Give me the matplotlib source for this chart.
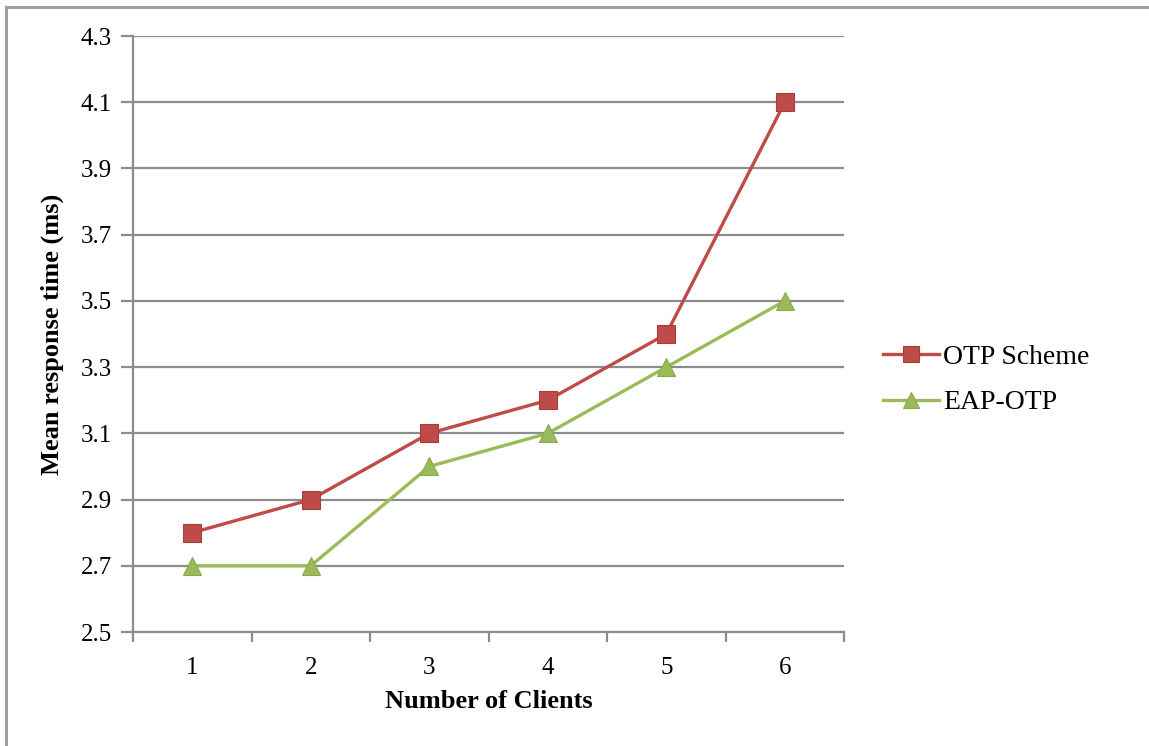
import matplotlib.pyplot as plt
from matplotlib.lines import Line2D
import numpy as np

plt.rcParams['font.family'] = ['Liberation Serif', 'DejaVu Serif']

clients = [1, 2, 3, 4, 5, 6]
otp_scheme = [2.8, 2.9, 3.1, 3.2, 3.4, 4.1]
eap_otp = [2.7, 2.7, 3.0, 3.1, 3.3, 3.5]
yticks = [2.5, 2.7, 2.9, 3.1, 3.3, 3.5, 3.7, 3.9, 4.1, 4.3]

red = '#BE4B48'
green = '#9BBB59'
grey = '#8C8C8C'

fig = plt.figure(figsize=(11.49, 7.46), dpi=100)
ax = fig.add_axes([0.1158, 0.1528, 0.6188, 0.7989])

x = np.arange(len(clients))
ax.plot(x, otp_scheme, color=red, lw=2.4, marker='s', ms=13,
        mfc=red, mec='#A83E3B', mew=0.8, label='OTP Scheme', zorder=3)
ax.plot(x, eap_otp, color=green, lw=2.4, marker='^', ms=13,
        mfc=green, mec='#8AA84E', mew=0.8, label='EAP-OTP', zorder=3)

ax.set_xlim(-0.5, len(clients) - 0.5)
ax.set_ylim(2.5, 4.3)
ax.set_yticks(yticks)
ax.set_yticklabels(['%.1f' % v for v in yticks])
ax.yaxis.grid(True, color=grey, lw=1.6)
ax.set_axisbelow(True)

# category labels in the middle, tick marks on the boundaries
ax.set_xticks(x)
ax.set_xticklabels([str(c) for c in clients])
ax.set_xticks(np.arange(-0.5, len(clients), 1.0), minor=True)
ax.tick_params(axis='x', which='major', length=0, pad=18, labelsize=18)
ax.tick_params(axis='x', which='minor', length=7, width=1.6, color=grey, direction='out')
ax.tick_params(axis='y', length=9, width=1.6, color=grey, direction='out', pad=6, labelsize=18)

for side in ['top', 'right']:
    ax.spines[side].set_visible(False)
for side in ['left', 'bottom']:
    ax.spines[side].set_color(grey)
    ax.spines[side].set_linewidth(1.6)

ax.set_xlabel('Number of Clients', fontsize=19, fontweight='bold', labelpad=8)
ax.set_ylabel('Mean response time (ms)', fontsize=19, fontweight='bold', labelpad=12)

ax.legend(loc='center left', bbox_to_anchor=(1.02, 0.423), frameon=False,
          fontsize=20, handlelength=2.0, handletextpad=0.15, labelspacing=0.72,
          markerscale=0.85)

# chart frame (left and top edges)
fig.add_artist(Line2D([0.0055, 0.0055], [0.0, 0.9906], color='#A0A0A0', lw=2.2,
                      transform=fig.transFigure))
fig.add_artist(Line2D([0.0055, 1.0], [0.9906, 0.9906], color='#A0A0A0', lw=2.2,
                      transform=fig.transFigure))

fig.savefig('out.png', dpi=100)
